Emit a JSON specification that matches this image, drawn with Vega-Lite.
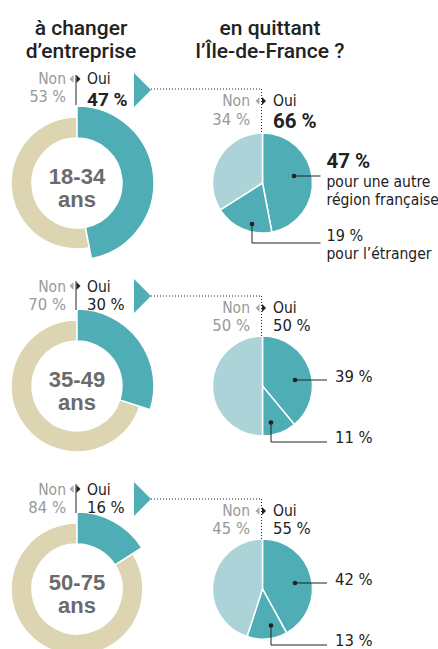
{
  "$schema": "https://vega.github.io/schema/vega-lite/v6.json",
  "width": 438,
  "height": 649,
  "autosize": "none",
  "padding": 0,
  "background": "#ffffff",
  "config": {
    "view": {"stroke": null},
    "text": {"font": "DejaVu Sans Condensed, Roboto", "fontSize": 16, "baseline": "alphabetic", "fill": "#222222"}
  },
  "datasets": {
    "donut": [
      {"group": "18-34", "cat": "Oui", "pct": 47, "k": 1},
      {"group": "18-34", "cat": "Non", "pct": 53, "k": 2},
      {"group": "35-49", "cat": "Oui", "pct": 30, "k": 1},
      {"group": "35-49", "cat": "Non", "pct": 70, "k": 2},
      {"group": "50-75", "cat": "Oui", "pct": 16, "k": 1},
      {"group": "50-75", "cat": "Non", "pct": 84, "k": 2}
    ],
    "pie": [
      {"group": "18-34", "cat": "autre", "pct": 47, "k": 1},
      {"group": "18-34", "cat": "etranger", "pct": 19, "k": 2},
      {"group": "18-34", "cat": "rester", "pct": 34, "k": 3},
      {"group": "35-49", "cat": "autre", "pct": 39, "k": 1},
      {"group": "35-49", "cat": "etranger", "pct": 11, "k": 2},
      {"group": "35-49", "cat": "rester", "pct": 50, "k": 3},
      {"group": "50-75", "cat": "autre", "pct": 42, "k": 1},
      {"group": "50-75", "cat": "etranger", "pct": 13, "k": 2},
      {"group": "50-75", "cat": "rester", "pct": 45, "k": 3}
    ],
    "labels": [
      {"group": "18-34", "non_ent": "53 %", "oui_ent": "47 %", "non_reg": "34 %", "oui_reg": "66 %", "autre": "47 %", "etr": "19 %"},
      {"group": "35-49", "non_ent": "70 %", "oui_ent": "30 %", "non_reg": "50 %", "oui_reg": "50 %", "autre": "39 %", "etr": "11 %"},
      {"group": "50-75", "non_ent": "84 %", "oui_ent": "16 %", "non_reg": "45 %", "oui_reg": "55 %", "autre": "42 %", "etr": "13 %"}
    ],
    "titles": [
      {"col": "entreprise", "t": "à changer\nd’entreprise"},
      {"col": "region", "t": "en quittant\nl’Île-de-France ?"}
    ]
  },
  "encoding": {
    "x": {"datum": "entreprise", "type": "nominal", "scale": {"type": "point", "domain": ["entreprise", "region"], "range": [77, 262.5], "padding": 0}, "axis": null},
    "y": {"field": "group", "type": "nominal", "scale": {"type": "point", "domain": ["18-34", "35-49", "50-75"], "range": [183, 589], "padding": 0}, "axis": null}
  },
  "layer": [
    {
      "data": {"name": "donut"},
      "transform": [{"stack": "pct", "groupby": ["group"], "sort": [{"field": "k", "order": "ascending"}], "as": ["t0", "t1"]}],
      "mark": {"type": "arc", "innerRadius": 45, "outerRadius": 66, "stroke": "#ffffff", "strokeWidth": 1.5},
      "encoding": {
        "theta": {"field": "t0", "type": "quantitative", "scale": {"domain": [0, 100]}},
        "theta2": {"field": "t1"},
        "fill": {"field": "cat", "type": "nominal", "scale": {"domain": ["Oui", "Non", "autre", "etranger", "rester"], "range": ["#4fadb5", "#ddd5b2", "#4fadb5", "#4fadb5", "#abd3d8"]}, "legend": null}
      }
    },
    {
      "data": {"name": "donut"},
      "transform": [
        {"stack": "pct", "groupby": ["group"], "sort": [{"field": "k", "order": "ascending"}], "as": ["t0", "t1"]},
        {"filter": "datum.cat == 'Oui'"}
      ],
      "mark": {"type": "arc", "innerRadius": 45, "outerRadius": 77, "stroke": "#ffffff", "strokeWidth": 1.5},
      "encoding": {
        "theta": {"field": "t0", "type": "quantitative", "scale": {"domain": [0, 100]}},
        "theta2": {"field": "t1"},
        "fill": {"field": "cat", "type": "nominal", "legend": null}
      }
    },
    {
      "data": {"name": "pie"},
      "transform": [{"stack": "pct", "groupby": ["group"], "sort": [{"field": "k", "order": "ascending"}], "as": ["t0", "t1"]}],
      "mark": {"type": "arc", "outerRadius": 50, "stroke": "#ffffff", "strokeWidth": 1.5},
      "encoding": {
        "x": {"datum": "region", "type": "nominal", "axis": null},
        "theta": {"field": "t0", "type": "quantitative", "scale": {"domain": [0, 100]}},
        "theta2": {"field": "t1"},
        "fill": {"field": "cat", "type": "nominal", "legend": null}
      }
    },
    {
      "data": {"name": "titles"},
      "transform": [{"filter": "datum.col == 'entreprise'"}],
      "mark": {"type": "text", "font": "Roboto", "fontWeight": 500, "fontSize": 21, "lineBreak": "\n", "lineHeight": 23, "align": "center", "dx": 4, "dy": -148, "fill": "#222222"},
      "encoding": {
        "y": {"datum": "18-34", "type": "nominal", "axis": null},
        "text": {"field": "t"}
      }
    },
    {
      "data": {"name": "titles"},
      "transform": [{"filter": "datum.col == 'region'"}],
      "mark": {"type": "text", "font": "Roboto", "fontWeight": 500, "fontSize": 21, "lineBreak": "\n", "lineHeight": 23, "align": "center", "dx": 7.5, "dy": -148, "fill": "#222222"},
      "encoding": {
        "x": {"datum": "region", "type": "nominal", "axis": null},
        "y": {"datum": "18-34", "type": "nominal", "axis": null},
        "text": {"field": "t"}
      }
    },
    {
      "data": {"name": "labels"},
      "mark": {"type": "text", "font": "Liberation Sans", "fontWeight": "bold", "fontSize": 22, "align": "center", "dy": 1, "fill": "#6b6b6b"},
      "encoding": {"text": {"field": "group"}}
    },
    {
      "data": {"name": "labels"},
      "mark": {"type": "text", "text": "ans", "font": "Liberation Sans", "fontWeight": "bold", "fontSize": 22, "align": "center", "dy": 24, "fill": "#6b6b6b"}
    },

    {"data": {"name": "labels"}, "transform": [{"filter": "datum.group == '18-34'"}],
     "mark": {"type": "text", "text": "Non", "align": "right", "dx": -11, "dy": -99, "fontSize": 15.5, "fill": "#999999"}},
    {"data": {"name": "labels"}, "transform": [{"filter": "datum.group == '18-34'"}],
     "mark": {"type": "text", "align": "right", "dx": -11, "dy": -81, "fontSize": 16, "fill": "#999999"},
     "encoding": {"text": {"field": "non_ent"}}},
    {"data": {"name": "labels"}, "transform": [{"filter": "datum.group == '18-34'"}],
     "mark": {"type": "text", "text": "Oui", "align": "left", "dx": 10, "dy": -99, "fontSize": 15.5, "fill": "#222222"}},
    {"data": {"name": "labels"}, "transform": [{"filter": "datum.group == '18-34'"}],
     "mark": {"type": "text", "align": "left", "dx": 10, "dy": -77, "font": "Roboto", "fontWeight": "bold", "fontSize": 19, "fill": "#222222"},
     "encoding": {"text": {"field": "oui_ent"}}},

    {"data": {"name": "labels"}, "transform": [{"filter": "datum.group != '18-34'"}],
     "mark": {"type": "text", "text": "Non", "align": "right", "dx": -11, "dy": -94, "fontSize": 15.5, "fill": "#999999"}},
    {"data": {"name": "labels"}, "transform": [{"filter": "datum.group != '18-34'"}],
     "mark": {"type": "text", "align": "right", "dx": -11, "dy": -76, "fontSize": 16.5, "fill": "#999999"},
     "encoding": {"text": {"field": "non_ent"}}},
    {"data": {"name": "labels"}, "transform": [{"filter": "datum.group != '18-34'"}],
     "mark": {"type": "text", "text": "Oui", "align": "left", "dx": 10, "dy": -94, "fontSize": 15.5, "fill": "#222222"}},
    {"data": {"name": "labels"}, "transform": [{"filter": "datum.group != '18-34'"}],
     "mark": {"type": "text", "align": "left", "dx": 10, "dy": -76, "fontSize": 16.5, "fill": "#222222"},
     "encoding": {"text": {"field": "oui_ent"}}},

    {"data": {"name": "labels"}, "transform": [{"filter": "datum.group == '18-34'"}],
     "mark": {"type": "point", "shape": "M0.5,-1L-0.5,0L0.5,1Z", "size": 64, "filled": true, "fill": "#aaaaaa", "strokeWidth": 0, "opacity": 1, "xOffset": -5.5, "yOffset": -104}},
    {"data": {"name": "labels"}, "transform": [{"filter": "datum.group == '18-34'"}],
     "mark": {"type": "point", "shape": "M-0.5,-1L0.5,0L-0.5,1Z", "size": 64, "filled": true, "fill": "#222222", "strokeWidth": 0, "opacity": 1, "xOffset": 1.5, "yOffset": -104}},
    {"data": {"name": "labels"}, "transform": [{"filter": "datum.group != '18-34'"}],
     "mark": {"type": "point", "shape": "M0.5,-1L-0.5,0L0.5,1Z", "size": 64, "filled": true, "fill": "#aaaaaa", "strokeWidth": 0, "opacity": 1, "xOffset": -5.5, "yOffset": -100}},
    {"data": {"name": "labels"}, "transform": [{"filter": "datum.group != '18-34'"}],
     "mark": {"type": "point", "shape": "M-0.5,-1L0.5,0L-0.5,1Z", "size": 64, "filled": true, "fill": "#222222", "strokeWidth": 0, "opacity": 1, "xOffset": 1.5, "yOffset": -100}},

    {"data": {"name": "labels"}, "transform": [{"filter": "datum.group == '18-34'"}],
     "mark": {"type": "rule", "stroke": "#222222", "strokeWidth": 1, "xOffset": -1, "yOffset": -108, "y2Offset": -78},
     "encoding": {"y2": {"field": "group"}}},
    {"data": {"name": "labels"}, "transform": [{"filter": "datum.group != '18-34'"}],
     "mark": {"type": "rule", "stroke": "#222222", "strokeWidth": 1, "xOffset": -1, "yOffset": -105, "y2Offset": -76},
     "encoding": {"y2": {"field": "group"}}},

    {"data": {"name": "labels"}, "transform": [{"filter": "datum.group == '18-34'"}],
     "mark": {"type": "point", "shape": "M-0.5,-1L0.5,0L-0.5,1Z", "size": 1156, "filled": true, "fill": "#4fadb5", "strokeWidth": 0, "opacity": 1, "xOffset": 65.5, "yOffset": -93}},
    {"data": {"name": "labels"}, "transform": [{"filter": "datum.group != '18-34'"}],
     "mark": {"type": "point", "shape": "M-0.5,-1L0.5,0L-0.5,1Z", "size": 1156, "filled": true, "fill": "#4fadb5", "strokeWidth": 0, "opacity": 1, "xOffset": 65.5, "yOffset": -90}},

    {"data": {"name": "labels"}, "transform": [{"filter": "datum.group == '18-34'"}],
     "mark": {"type": "rule", "stroke": "#222222", "strokeWidth": 1, "strokeDash": [1, 2], "xOffset": 74, "x2Offset": -1, "yOffset": -94},
     "encoding": {"x2": {"datum": "region"}}},
    {"data": {"name": "labels"}, "transform": [{"filter": "datum.group != '18-34'"}],
     "mark": {"type": "rule", "stroke": "#222222", "strokeWidth": 1, "strokeDash": [1, 2], "xOffset": 74, "x2Offset": -1, "yOffset": -90},
     "encoding": {"x2": {"datum": "region"}}},
    {"data": {"name": "labels"}, "transform": [{"filter": "datum.group == '18-34'"}],
     "mark": {"type": "rule", "stroke": "#222222", "strokeWidth": 1, "strokeDash": [1, 2], "xOffset": -1, "yOffset": -94, "y2Offset": -51},
     "encoding": {"x": {"datum": "region", "type": "nominal", "axis": null}, "y2": {"field": "group"}}},
    {"data": {"name": "labels"}, "transform": [{"filter": "datum.group != '18-34'"}],
     "mark": {"type": "rule", "stroke": "#222222", "strokeWidth": 1, "strokeDash": [1, 2], "xOffset": -1, "yOffset": -90, "y2Offset": -50},
     "encoding": {"x": {"datum": "region", "type": "nominal", "axis": null}, "y2": {"field": "group"}}},

    {"data": {"name": "labels"}, "transform": [{"filter": "datum.group == '18-34'"}],
     "mark": {"type": "text", "text": "Non", "align": "right", "dx": -12.5, "dy": -77, "fontSize": 15.5, "fill": "#999999"},
     "encoding": {"x": {"datum": "region", "type": "nominal", "axis": null}}},
    {"data": {"name": "labels"}, "transform": [{"filter": "datum.group == '18-34'"}],
     "mark": {"type": "text", "align": "right", "dx": -12.5, "dy": -58, "fontSize": 16.5, "fill": "#999999"},
     "encoding": {"x": {"datum": "region", "type": "nominal", "axis": null}, "text": {"field": "non_reg"}}},
    {"data": {"name": "labels"}, "transform": [{"filter": "datum.group == '18-34'"}],
     "mark": {"type": "text", "text": "Oui", "align": "left", "dx": 10.5, "dy": -77, "fontSize": 15.5, "fill": "#222222"},
     "encoding": {"x": {"datum": "region", "type": "nominal", "axis": null}}},
    {"data": {"name": "labels"}, "transform": [{"filter": "datum.group == '18-34'"}],
     "mark": {"type": "text", "align": "left", "dx": 10.5, "dy": -55, "font": "Roboto", "fontWeight": "bold", "fontSize": 20.5, "fill": "#222222"},
     "encoding": {"x": {"datum": "region", "type": "nominal", "axis": null}, "text": {"field": "oui_reg"}}},

    {"data": {"name": "labels"}, "transform": [{"filter": "datum.group != '18-34'"}],
     "mark": {"type": "text", "text": "Non", "align": "right", "dx": -12.5, "dy": -73, "fontSize": 15.5, "fill": "#999999"},
     "encoding": {"x": {"datum": "region", "type": "nominal", "axis": null}}},
    {"data": {"name": "labels"}, "transform": [{"filter": "datum.group != '18-34'"}],
     "mark": {"type": "text", "align": "right", "dx": -12.5, "dy": -55, "fontSize": 16.5, "fill": "#999999"},
     "encoding": {"x": {"datum": "region", "type": "nominal", "axis": null}, "text": {"field": "non_reg"}}},
    {"data": {"name": "labels"}, "transform": [{"filter": "datum.group != '18-34'"}],
     "mark": {"type": "text", "text": "Oui", "align": "left", "dx": 10.5, "dy": -73, "fontSize": 15.5, "fill": "#222222"},
     "encoding": {"x": {"datum": "region", "type": "nominal", "axis": null}}},
    {"data": {"name": "labels"}, "transform": [{"filter": "datum.group != '18-34'"}],
     "mark": {"type": "text", "align": "left", "dx": 10.5, "dy": -55, "fontSize": 16.5, "fill": "#222222"},
     "encoding": {"x": {"datum": "region", "type": "nominal", "axis": null}, "text": {"field": "oui_reg"}}},

    {"data": {"name": "labels"}, "transform": [{"filter": "datum.group == '18-34'"}],
     "mark": {"type": "point", "shape": "M0.5,-1L-0.5,0L0.5,1Z", "size": 64, "filled": true, "fill": "#aaaaaa", "strokeWidth": 0, "opacity": 1, "xOffset": -5, "yOffset": -82},
     "encoding": {"x": {"datum": "region", "type": "nominal", "axis": null}}},
    {"data": {"name": "labels"}, "transform": [{"filter": "datum.group == '18-34'"}],
     "mark": {"type": "point", "shape": "M-0.5,-1L0.5,0L-0.5,1Z", "size": 64, "filled": true, "fill": "#222222", "strokeWidth": 0, "opacity": 1, "xOffset": 1.5, "yOffset": -82},
     "encoding": {"x": {"datum": "region", "type": "nominal", "axis": null}}},
    {"data": {"name": "labels"}, "transform": [{"filter": "datum.group != '18-34'"}],
     "mark": {"type": "point", "shape": "M0.5,-1L-0.5,0L0.5,1Z", "size": 64, "filled": true, "fill": "#aaaaaa", "strokeWidth": 0, "opacity": 1, "xOffset": -5, "yOffset": -78},
     "encoding": {"x": {"datum": "region", "type": "nominal", "axis": null}}},
    {"data": {"name": "labels"}, "transform": [{"filter": "datum.group != '18-34'"}],
     "mark": {"type": "point", "shape": "M-0.5,-1L0.5,0L-0.5,1Z", "size": 64, "filled": true, "fill": "#222222", "strokeWidth": 0, "opacity": 1, "xOffset": 1.5, "yOffset": -78},
     "encoding": {"x": {"datum": "region", "type": "nominal", "axis": null}}},

    {"data": {"name": "labels"}, "transform": [{"filter": "datum.group == '18-34'"}],
     "mark": {"type": "text", "align": "left", "dx": 64, "dy": -15, "font": "Roboto", "fontWeight": "bold", "fontSize": 20.5, "fill": "#222222"},
     "encoding": {"x": {"datum": "region", "type": "nominal", "axis": null}, "text": {"field": "autre"}}},
    {"data": {"name": "labels"}, "transform": [{"filter": "datum.group == '18-34'"}],
     "mark": {"type": "text", "text": "pour une autre\nrégion française", "lineBreak": "\n", "lineHeight": 18, "align": "left", "dx": 64, "dy": 4, "fontSize": 15.5, "fill": "#222222"},
     "encoding": {"x": {"datum": "region", "type": "nominal", "axis": null}}},
    {"data": {"name": "labels"}, "transform": [{"filter": "datum.group == '18-34'"}],
     "mark": {"type": "point", "shape": "circle", "size": 22, "filled": true, "fill": "#222222", "strokeWidth": 0, "opacity": 1, "xOffset": 31.5, "yOffset": -7},
     "encoding": {"x": {"datum": "region", "type": "nominal", "axis": null}}},
    {"data": {"name": "labels"}, "transform": [{"filter": "datum.group == '18-34'"}],
     "mark": {"type": "rule", "stroke": "#222222", "strokeWidth": 1, "xOffset": 31.5, "x2Offset": 58, "yOffset": -7},
     "encoding": {"x": {"datum": "region", "type": "nominal", "axis": null}, "x2": {"datum": "region"}}},
    {"data": {"name": "labels"}, "transform": [{"filter": "datum.group == '18-34'"}],
     "mark": {"type": "text", "align": "left", "dx": 64, "dy": 58, "fontSize": 16, "fill": "#222222"},
     "encoding": {"x": {"datum": "region", "type": "nominal", "axis": null}, "text": {"field": "etr"}}},
    {"data": {"name": "labels"}, "transform": [{"filter": "datum.group == '18-34'"}],
     "mark": {"type": "text", "text": "pour l’étranger", "align": "left", "dx": 64, "dy": 76, "fontSize": 15.5, "fill": "#222222"},
     "encoding": {"x": {"datum": "region", "type": "nominal", "axis": null}}},
    {"data": {"name": "labels"}, "transform": [{"filter": "datum.group == '18-34'"}],
     "mark": {"type": "point", "shape": "circle", "size": 22, "filled": true, "fill": "#222222", "strokeWidth": 0, "opacity": 1, "xOffset": -10.5, "yOffset": 41},
     "encoding": {"x": {"datum": "region", "type": "nominal", "axis": null}}},
    {"data": {"name": "labels"}, "transform": [{"filter": "datum.group == '18-34'"}],
     "mark": {"type": "rule", "stroke": "#222222", "strokeWidth": 1, "xOffset": -10.5, "yOffset": 41, "y2Offset": 60},
     "encoding": {"x": {"datum": "region", "type": "nominal", "axis": null}, "y2": {"field": "group"}}},
    {"data": {"name": "labels"}, "transform": [{"filter": "datum.group == '18-34'"}],
     "mark": {"type": "rule", "stroke": "#222222", "strokeWidth": 1, "xOffset": -10.5, "x2Offset": 58, "yOffset": 60},
     "encoding": {"x": {"datum": "region", "type": "nominal", "axis": null}, "x2": {"datum": "region"}}},

    {"data": {"name": "labels"}, "transform": [{"filter": "datum.group != '18-34'"}],
     "mark": {"type": "text", "align": "left", "dx": 72.5, "dy": -4, "fontSize": 16.5, "fill": "#222222"},
     "encoding": {"x": {"datum": "region", "type": "nominal", "axis": null}, "text": {"field": "autre"}}},
    {"data": {"name": "labels"}, "transform": [{"filter": "datum.group != '18-34'"}],
     "mark": {"type": "point", "shape": "circle", "size": 22, "filled": true, "fill": "#222222", "strokeWidth": 0, "opacity": 1, "xOffset": 32.5, "yOffset": -6},
     "encoding": {"x": {"datum": "region", "type": "nominal", "axis": null}}},
    {"data": {"name": "labels"}, "transform": [{"filter": "datum.group != '18-34'"}],
     "mark": {"type": "rule", "stroke": "#222222", "strokeWidth": 1, "xOffset": 32.5, "x2Offset": 64.5, "yOffset": -6},
     "encoding": {"x": {"datum": "region", "type": "nominal", "axis": null}, "x2": {"datum": "region"}}},
    {"data": {"name": "labels"}, "transform": [{"filter": "datum.group != '18-34'"}],
     "mark": {"type": "text", "align": "left", "dx": 72.5, "dy": 57, "fontSize": 16.5, "fill": "#222222"},
     "encoding": {"x": {"datum": "region", "type": "nominal", "axis": null}, "text": {"field": "etr"}}},
    {"data": {"name": "labels"}, "transform": [{"filter": "datum.group != '18-34'"}],
     "mark": {"type": "point", "shape": "circle", "size": 22, "filled": true, "fill": "#222222", "strokeWidth": 0, "opacity": 1, "xOffset": 8.5, "yOffset": 36.5},
     "encoding": {"x": {"datum": "region", "type": "nominal", "axis": null}}},
    {"data": {"name": "labels"}, "transform": [{"filter": "datum.group != '18-34'"}],
     "mark": {"type": "rule", "stroke": "#222222", "strokeWidth": 1, "xOffset": 8.5, "yOffset": 36.5, "y2Offset": 56},
     "encoding": {"x": {"datum": "region", "type": "nominal", "axis": null}, "y2": {"field": "group"}}},
    {"data": {"name": "labels"}, "transform": [{"filter": "datum.group != '18-34'"}],
     "mark": {"type": "rule", "stroke": "#222222", "strokeWidth": 1, "xOffset": 8.5, "x2Offset": 64.5, "yOffset": 56},
     "encoding": {"x": {"datum": "region", "type": "nominal", "axis": null}, "x2": {"datum": "region"}}}
  ]
}
